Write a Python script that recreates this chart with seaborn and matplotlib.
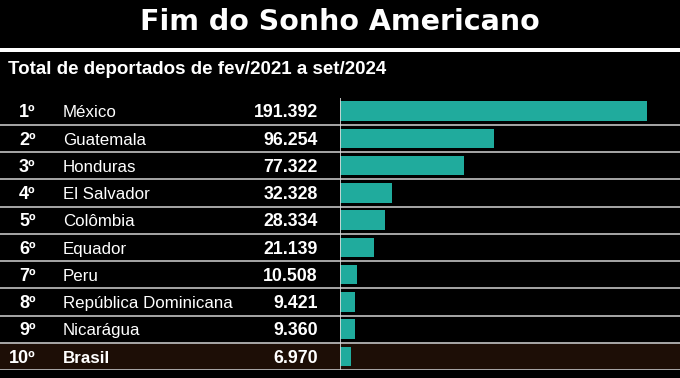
import matplotlib
matplotlib.use("Agg")
import matplotlib.pyplot as plt
import seaborn as sns
from matplotlib.patches import Rectangle


TITLE = "Fim do Sonho Americano"
SUBTITLE = "Total de deportados de fev/2021 a set/2024"

ranks = ["1º", "2º", "3º", "4º", "5º", "6º", "7º", "8º", "9º", "10º"]
countries = ["México", "Guatemala", "Honduras", "El Salvador", "Colômbia",
             "Equador", "Peru", "República Dominicana", "Nicarágua", "Brasil"]
values = [191392, 96254, 77322, 32328, 28334, 21139, 10508, 9421, 9360, 6970]
highlight = "Brasil"

TEAL = "#20ab9d"
LINE = "#b4b4b4"
HILITE = "#1d0e06"


def fmt(v):
  return f"{v:,}".replace(",", ".")


def main():
  sns.set_theme(style="white", rc={"figure.facecolor": "black",
                                   "axes.facecolor": "none"})
  plt.rcParams["font.family"] = ["Liberation Sans", "DejaVu Sans"]

  W, H = 680, 378
  fig = plt.figure(figsize=(6.8, 3.78), dpi=100)

  top, bottom = 97.5, 370.0
  y0 = 1 - bottom / H
  hgt = (bottom - top) / H
  n = len(countries)

  # header
  fig.text(0.5, 1 - 29.5 / H, TITLE, ha="center", va="baseline", color="white",
           fontsize=20.5, fontweight="heavy", family=["DejaVu Sans"])
  fig.patches.append(Rectangle((0, 1 - 52 / H), 1, 4 / H, transform=fig.transFigure,
                               facecolor="white", edgecolor="none"))
  fig.text(8 / W, 1 - 74 / H, SUBTITLE, ha="left", va="baseline", color="white",
           fontsize=13.5, fontweight="bold")

  # background rows, separators and labels
  bg = fig.add_axes([0, y0, 1, hgt])
  bg.set_xlim(0, 1)
  bg.set_ylim(n - 0.5, -0.5)
  bg.axis("off")
  for i, c in enumerate(countries):
    if c == highlight:
      bg.axhspan(i - 0.5, i + 0.5, color=HILITE, zorder=0)
    bg.axhline(i + 0.5, color=LINE, lw=1.3, zorder=1)
    w = "bold" if c == highlight else "normal"
    ty = i + 0.23
    bg.text(35.5 / W, ty, ranks[i], ha="right", va="baseline", color="white",
            fontsize=13, fontweight="bold")
    bg.text(63 / W, ty, c, ha="left", va="baseline", color="white",
            fontsize=12.2, fontweight=w)
    bg.text(318 / W, ty, fmt(values[i]), ha="right", va="baseline", color="white",
            fontsize=12.8, fontweight="bold")

  # bars
  ax = fig.add_axes([340 / W, y0, 340 / W, hgt])
  sns.barplot(x=values, y=countries, orient="h", color=TEAL, saturation=1,
              width=0.71, edgecolor="none", linewidth=0, ax=ax)
  ax.set_xlim(0, max(values) * 340 / 307)
  ax.set_ylim(n - 0.5, -0.5)
  ax.axvline(0, color="#dddddd", lw=1.2)
  ax.set_xticks([])
  ax.set_yticks([])
  ax.set_xlabel("")
  ax.set_ylabel("")
  sns.despine(ax=ax, left=True, bottom=True)

  fig.savefig("out.png", dpi=100, facecolor="black")


main()
